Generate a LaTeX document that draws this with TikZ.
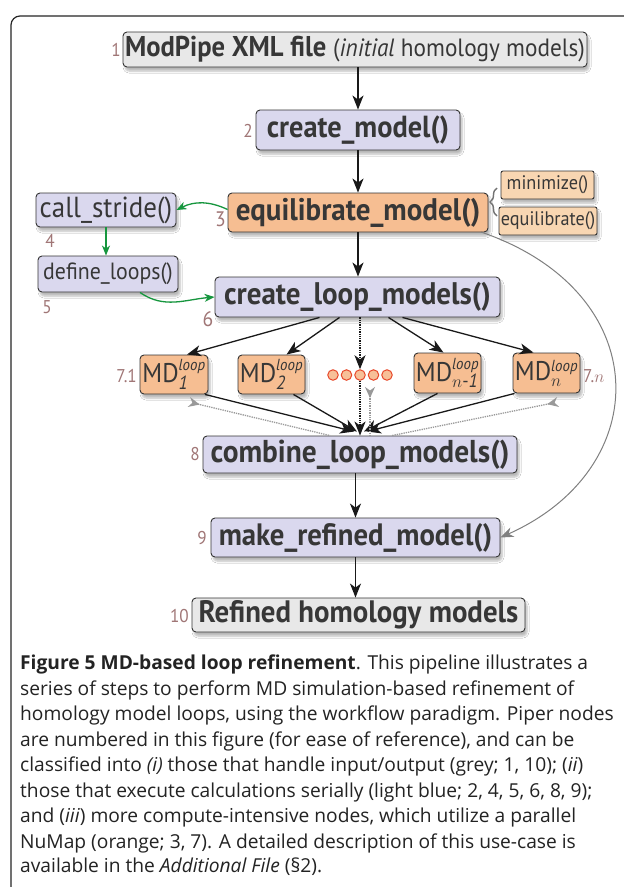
\documentclass[tikz,border=0pt]{standalone}
\usepackage{fontspec}
\setmainfont{PT Sans}[FakeStretch=0.93]
\newfontfamily\capfont{Open Sans}
\usetikzlibrary{arrows.meta,shadows.blur,decorations.pathreplacing}
\definecolor{txt}{RGB}{55,55,55}
\definecolor{captxt}{RGB}{35,35,35}
\definecolor{greyfill}{RGB}{232,232,232}
\definecolor{bluefill}{RGB}{218,216,238}
\definecolor{orfill}{RGB}{246,190,146}
\definecolor{lorfill}{RGB}{248,214,178}
\definecolor{numcol}{RGB}{160,118,118}
\definecolor{grn}{RGB}{22,150,62}
\definecolor{dotred}{RGB}{232,72,42}
\definecolor{dotfill}{RGB}{247,192,152}
\newcommand\mdlab[1]{MD$^{\hbox{\fontsize{16}{16}\selectfont\itshape loop}}_{\hbox{\fontsize{19}{19}\selectfont\itshape #1}}$}
\begin{document}
\begin{tikzpicture}[x=1pt,y=-1pt,
  box/.style={draw=black!80, line width=0.9pt, rounded corners=4pt, text=txt, inner sep=0pt, align=center,
    blur shadow={shadow xshift=2pt, shadow yshift=-4pt, shadow opacity=28, shadow blur steps=6}},
  greybox/.style={box, fill=greyfill},
  bluebox/.style={box, fill=bluefill},
  orbox/.style={box, fill=orfill},
  lorbox/.style={box, fill=lorfill, rounded corners=2pt},
  numlab/.style={text=numcol, font=\fontsize{18.5}{20}\selectfont, inner sep=0pt},
  arr/.style={line width=1.3pt, black!90, -{Stealth[length=14pt,width=11pt,inset=4pt]}},
  garr/.style={line width=1.3pt, grn, -{Stealth[length=10pt,width=8pt,inset=3pt]}},
  greyarr/.style={line width=1pt, black!50, -{Stealth[length=13pt,width=10pt,inset=4pt]}},
  gdot/.style={line width=1.3pt, black!40, densely dotted, {Stealth[reversed,length=11pt,width=10pt,inset=3.5pt]}-},
  bdot/.style={line width=1.3pt, black!90, densely dotted, -{Stealth[length=14pt,width=11pt,inset=4pt]}},
  ldot/.style={circle, draw=dotred, fill=dotfill, line width=1pt, minimum size=10.5pt, inner sep=0pt},
  caption/.style={anchor=base west, inner sep=0pt, text=captxt, font=\capfont\fontsize{19.2}{20}\selectfont}
]
\useasboundingbox (0,0) rectangle (624,887);
\fill[white] (0,0) rectangle (624,887);
% frame
\draw[line width=1.2pt, black!85, rounded corners=9pt] (11,890) -- (11,16) -- (630,16);

% nodes
\node[greybox, minimum width=464pt, minimum height=35pt] (n1) at (355,49.5)
  {\fontsize{28.6}{30}\selectfont\bfseries ModPipe XML file \fontsize{25}{30}\selectfont\mdseries(\textit{initial} homology models)};
\node[bluebox, minimum width=204pt, minimum height=40pt] (n2) at (358,130)
  {\fontsize{30.5}{32}\selectfont\bfseries create\_model()};
\node[orbox, minimum width=260pt, minimum height=39pt] (n3) at (358,212.5)
  {\fontsize{31.2}{32}\selectfont\bfseries equilibrate\_model()};
\node[lorbox, minimum width=93pt, minimum height=28pt] (mini) at (547.5,185)
  {\fontsize{19.6}{20}\selectfont minimize()};
\node[lorbox, minimum width=98pt, minimum height=28pt] (equi) at (548,221)
  {\fontsize{19.6}{20}\selectfont equilibrate()};
\node[bluebox, minimum width=140pt, minimum height=34pt] (cs) at (106,210)
  {\fontsize{29}{30}\selectfont call\_stride()};
\node[bluebox, minimum width=140pt, minimum height=36pt] (dl) at (108,274)
  {\fontsize{23.5}{24}\selectfont define\_loops()};
\node[bluebox, minimum width=285pt, minimum height=40pt] (clm) at (357.5,297)
  {\fontsize{31.2}{32}\selectfont\bfseries create\_loop\_models()};
\node[orbox, minimum width=68pt, minimum height=39pt] (md1) at (174,374.5)
  {\fontsize{27}{28}\selectfont\mdlab{1}};
\node[orbox, minimum width=67pt, minimum height=39pt] (md2) at (271.5,374.5)
  {\fontsize{27}{28}\selectfont\mdlab{2}};
\node[orbox, minimum width=67pt, minimum height=40pt] (mdm) at (447.5,373)
  {\fontsize{27}{28}\selectfont\mdlab{\upshape$n$-\textit{1}}};
\node[orbox, minimum width=67pt, minimum height=40pt] (mdn) at (546.5,373)
  {\fontsize{27}{28}\selectfont\mdlab{\upshape$n$}};
\node[ldot] (d1) at (333,375) {};
\node[ldot] (d2) at (346.5,375) {};
\node[ldot] (d3) at (360,375) {};
\node[ldot] (d4) at (373.5,375) {};
\node[ldot] (d5) at (387,375) {};
\node[bluebox, minimum width=314pt, minimum height=37pt] (cmb) at (360,454.5)
  {\fontsize{31.6}{32}\selectfont\bfseries combine\_loop\_models()};
\node[bluebox, minimum width=289pt, minimum height=39pt] (mr) at (355.5,537.5)
  {\fontsize{30.9}{32}\selectfont\bfseries make\_refined\_model()};
\node[greybox, minimum width=333pt, minimum height=34pt] (out) at (358.5,615)
  {\fontsize{31}{32}\selectfont\bfseries Refined homology models};

% number labels
\node[numlab, anchor=east] (l1) at (121,50) {1};
\node[numlab, anchor=east] (l2) at (253,131) {2};
\node[numlab, anchor=east, font=\fontsize{21}{22}\selectfont] (l3) at (226,219) {3};
\node[numlab] (l4) at (50,241) {4};
\node[numlab] (l5) at (47,307) {5};
\node[numlab, font=\fontsize{21}{22}\selectfont] (l6) at (208,319) {6};
\node[numlab, anchor=east] (l71) at (137,376) {7.1};
\node[numlab, anchor=west] (l7n) at (583,376) {7.$n$};
\node[numlab, anchor=east] (l8) at (200,454) {8};
\node[numlab, anchor=east] (l9) at (207,538) {9};
\node[numlab, anchor=east] (l10) at (189,616) {10};

% brace
\draw[line width=1.4pt, black!55, decorate, decoration={brace, amplitude=7pt}] (497,216) -- (497,188);

% main arrows
\draw[arr] (n1.south -| n2.north) -- (n2.north);
\draw[arr] (n2) -- (n3);
\draw[arr] (n3.south) -- (n3.south |- clm.north);
\draw[arr] (cmb.south -| mr.north) -- (mr.north);
\draw[arr] (mr.south) -- (mr.south |- out.north);

% green arrows
\draw[garr] ([yshift=3pt]n3.west) to[bend right=26] (cs.east);
\draw[garr] (cs.south) -- (cs.south |- dl.north);
\draw[garr] ([xshift=32pt]dl.south) to[out=-35, in=185] (clm.west);

% grey long curve
\coordinate (gs) at (481,232);
\draw[greyarr] (gs) .. controls (656,292) and (656,468) .. (mr.east);

% fan out
\draw[arr] ([xshift=-38pt]clm.south) -- ([xshift=13pt]md1.north);
\draw[arr] ([xshift=-18pt]clm.south) -- ([xshift=15pt]md2.north);
\draw[arr] ([xshift=31pt]clm.south) -- ([xshift=-4pt]mdm.north);
\draw[arr] ([xshift=45pt]clm.south) -- ([xshift=-13pt]mdn.north);
\draw[bdot] (clm.south -| d3.north) -- (d3.north);
% fan in
\draw[arr] ([xshift=31pt]md1.south) -- ([xshift=-6pt,yshift=4pt]cmb.north);
\draw[arr] ([xshift=22pt]md2.south) -- ([xshift=-3pt,yshift=4pt]cmb.north);
\draw[arr] ([xshift=-10pt]mdm.south) -- ([xshift=4pt,yshift=4pt]cmb.north);
\draw[arr] ([xshift=-32pt]mdn.south) -- ([xshift=7pt,yshift=4pt]cmb.north);
\draw[bdot] (d3.south) -- (d3.south |- cmb.north);
% grey feedback
\coordinate (g1) at (189,402);
\coordinate (gm) at (370,387);
\coordinate (gn) at (558,402);
\draw[gdot] (g1) -- ([xshift=-30pt]cmb.north);
\draw[gdot] (gm) -- (gm |- cmb.north);
\draw[gdot] (gn) -- ([xshift=32pt]cmb.north);

% caption
\node[caption] (c1) at (20,669) {{\bfseries Figure 5 MD-based loop refinement}. This pipeline illustrates a};
\node[caption] (c2) at (20,695) {series of steps to perform MD simulation-based refinement of};
\node[caption] (c3) at (20,720) {homology model loops, using the workflow paradigm. Piper nodes};
\node[caption] (c4) at (20,746) {are numbered in this figure (for ease of reference), and can be};
\node[caption] (c5) at (20,771) {classified into \textit{(i)} those that handle input/output (grey; 1, 10); (\textit{ii})};
\node[caption] (c6) at (20,797) {those that execute calculations serially (light blue; 2, 4, 5, 6, 8, 9);};
\node[caption] (c7) at (20,822) {and (\textit{iii}) more compute-intensive nodes, which utilize a parallel};
\node[caption] (c8) at (20,848) {NuMap (orange; 3, 7). A detailed description of this use-case is};
\node[caption] (c9) at (20,872) {available in the \textit{Additional File} (§2).};
\end{tikzpicture}
\end{document}
